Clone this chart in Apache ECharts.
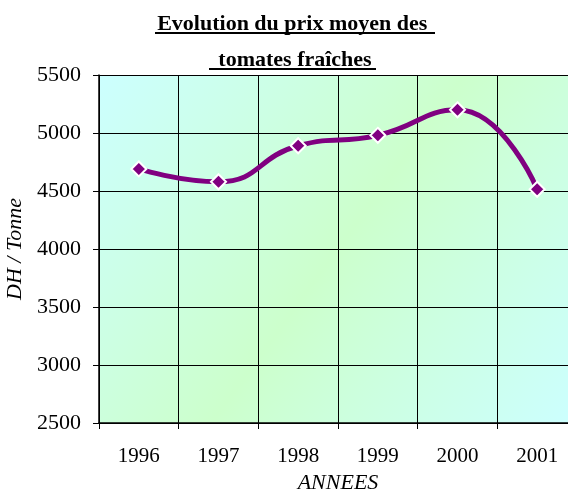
<!DOCTYPE html>
<html>
<head>
<meta charset="utf-8">
<script src="https://cdn.jsdelivr.net/npm/echarts@6/dist/echarts.min.js"></script>
<style>
  html, body { margin: 0; padding: 0; background: #fff; }
  #main { width: 568px; height: 493px; }
</style>
</head>
<body>
<div id="main"></div>
<script>
const years = ['1996', '1997', '1998', '1999', '2000', '2001'];
const prices = [4690, 4580, 4890, 4980, 5200, 4515];
const yMin = 2500, yMax = 5500, yStep = 500;

const font = '"Liberation Serif", "Times New Roman", serif';
const chart = echarts.init(document.getElementById('main'));

const option = {
  animation: false,
  title: {
    text: 'Evolution du prix moyen des \ntomates fraîches',
    left: 290,
    textAlign: 'center',
    top: 1,
    textStyle: {
      fontFamily: font,
      fontWeight: 'bold',
      fontSize: 22,
      lineHeight: 36,
      color: '#000'
    }
  },
  // underlines of the title
  graphic: [
    {type: 'rect', shape: {x: 155, y: 32, width: 280, height: 2}, style: {fill: '#000'}},
    {type: 'rect', shape: {x: 209, y: 68, width: 167, height: 2}, style: {fill: '#000'}}
  ],
  grid: {
    left: 99,
    top: 75,
    width: 478,
    height: 348,
    outerBoundsMode: 'none',
    containLabel: false,
    show: true,
    borderWidth: 0,
    backgroundColor: new echarts.graphic.LinearGradient(0, 0, 1, 1, [
      {offset: 0, color: '#ccffff'},
      {offset: 0.5, color: '#ccffcc'},
      {offset: 1, color: '#ccffff'}
    ])
  },
  xAxis: {
    type: 'category',
    data: years,
    boundaryGap: true,
    name: 'ANNEES',
    nameLocation: 'middle',
    nameGap: 47,
    nameTextStyle: {fontFamily: font, fontStyle: 'italic', fontSize: 22, color: '#000'},
    axisLine: {lineStyle: {color: '#000', width: 1.5}},
    axisTick: {show: true, length: 6, lineStyle: {color: '#000'}},
    axisLabel: {fontFamily: font, fontSize: 21, color: '#000', margin: 23},
    splitLine: {show: true, interval: 0, lineStyle: {color: '#000', width: 1}}
  },
  yAxis: {
    type: 'value',
    min: yMin,
    max: yMax,
    interval: yStep,
    name: 'DH / Tonne',
    nameLocation: 'middle',
    nameGap: 67,
    nameTextStyle: {fontFamily: font, fontStyle: 'italic', fontSize: 22, color: '#000'},
    axisLine: {show: true, lineStyle: {color: '#000', width: 1.5}},
    axisTick: {show: true, length: 6, lineStyle: {color: '#000'}},
    axisLabel: {fontFamily: font, fontSize: 22, color: '#000', margin: 18, formatter: v => String(v)},
    splitLine: {show: true, lineStyle: {color: '#000', width: 1}}
  },
  series: [
    {
      type: 'line',
      data: prices,
      smooth: 0.5,
      symbol: 'diamond',
      symbolSize: 15,
      lineStyle: {color: '#800080', width: 5},
      itemStyle: {color: '#800080', borderColor: '#fff', borderWidth: 2}
    }
  ]
};
chart.setOption(option);
</script>
</body>
</html>
